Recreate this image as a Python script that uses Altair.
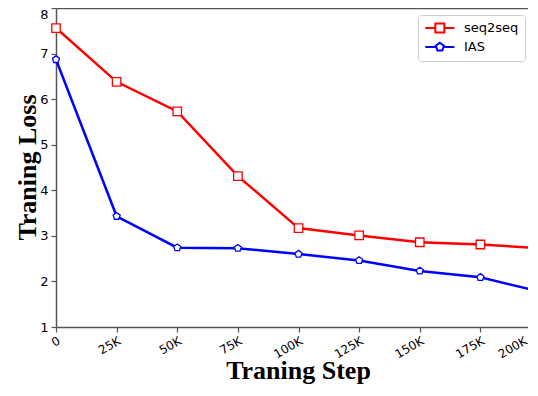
import altair as alt
import pandas as pd

steps = [0, 25000, 50000, 75000, 100000, 125000, 150000, 175000, 200000]
seq2seq = [7.56, 6.38, 5.73, 4.31, 3.17, 3.01, 2.86, 2.81, 2.73]
ias = [6.87, 3.43, 2.74, 2.73, 2.60, 2.46, 2.23, 2.09, 1.77]
series_names = ["seq2seq", "IAS"]
series_colors = ["#ff0000", "#0000ff"]

rows = []
for s, v in zip(steps, seq2seq):
    rows.append({"step": s, "loss": v, "series": "seq2seq"})
for s, v in zip(steps, ias):
    rows.append({"step": s, "loss": v, "series": "IAS"})
df = pd.DataFrame(rows)

PENTAGON = "M0,-1L0.951,-0.309L0.588,0.809L-0.588,0.809L-0.951,-0.309Z"
# legend glyphs: line with marker in the middle (unit = 6px for symbolSize 144)
LEG_SQ = "M-0.95,0H0.725M2.225,0H3.9M0.725,-0.75H2.225V0.75H0.725Z"
LEG_PENT = ("M-0.95,0H0.809M2.141,0H3.9M1.475,-0.7L2.141,-0.216L1.886,0.566"
            "L1.064,0.566L0.809,-0.216Z")

xscale = alt.Scale(domain=[0, 200000], range=[0, 485], nice=False)
yscale = alt.Scale(domain=[1, 8], nice=False)

x_main = alt.X("step:Q", scale=xscale,
               axis=alt.Axis(values=steps, title="Traning Step",
                             labelExpr="datum.value == 0 ? '0' : (datum.value/1000) + 'K'",
                             labelAngle=-30, labelAlign="right", labelBaseline="top",
                             labelFontSize=12, labelPadding=3,
                             labelOffset={"condition": {"test": "datum.value == 200000", "value": -18},
                                          "value": 0},
                             titleX=242, titleY=51, titleBaseline="alphabetic", grid=False))
x_plain = alt.X("step:Q", scale=xscale, axis=None)
y_main = alt.Y("loss:Q", scale=yscale,
               axis=alt.Axis(values=[1, 2, 3, 4, 5, 6, 7, 8], title="Traning Loss",
                             labelFontSize=13, labelPadding=3,
                             labelBaseline={"condition": {"test": "datum.value == 8", "value": "top"},
                                            "value": "middle"},
                             titleX=-29, titleY=159, titleBaseline="middle", grid=False))
y_plain = alt.Y("loss:Q", scale=yscale, axis=None)

base = alt.Chart(df)

def series_layers(name, color, shape, size, first):
    d = base.transform_filter(alt.datum.series == name)
    ln = d.mark_line(strokeWidth=2.5, color=color).encode(
        x=x_main if first else x_plain, y=y_main if first else y_plain)
    pt = d.mark_point(shape=shape, size=size, filled=True, fill="white", stroke=color,
                      strokeWidth=1.3, opacity=1).encode(x=x_plain, y=y_plain)
    return ln, pt

l1, p1 = series_layers("seq2seq", series_colors[0], "square", 72, True)
l2, p2 = series_layers("IAS", series_colors[1], PENTAGON, 55, False)

# top frame line
top_frame = base.mark_point(opacity=0).encode(
    x=alt.X("step:Q", scale=xscale,
            axis=alt.Axis(orient="top", labels=False, ticks=False, title=None, grid=False)),
    y=y_plain,
)

leg_props = dict(title=None, orient="none", legendX=362, legendY=7,
                 symbolSize=144, symbolStrokeWidth=2, symbolOpacity=1,
                 labelFontSize=13, labelFont="DejaVu Sans", labelColor="black", labelOffset=26,
                 padding=6, rowPadding=1,
                 strokeColor="#cccccc", cornerRadius=3, fillColor="white")

legend_layer = base.transform_filter("false").mark_point(filled=False, strokeWidth=2).encode(
    x=x_plain, y=y_plain,
    color=alt.Color("series:N", scale=alt.Scale(domain=series_names, range=series_colors),
                    legend=alt.Legend(**leg_props)),
    shape=alt.Shape("series:N", scale=alt.Scale(domain=series_names, range=[LEG_SQ, LEG_PENT]),
                    legend=alt.Legend(**leg_props)),
)

chart = alt.layer(l1, l2, p1, p2, top_frame, legend_layer).resolve_axis(
    x="independent", y="independent"
).properties(
    width=472, height=319,
    autosize=alt.AutoSizeParams(type="none"),
    padding={"left": 48, "top": 0, "right": 0, "bottom": 57},
).configure_view(
    strokeWidth=0
).configure_axis(
    domainColor="#555555", domainWidth=1.5, tickColor="#555555", tickWidth=1.2, tickSize=5,
    labelFont="DejaVu Sans", labelColor="black",
    titleFont="Liberation Serif", titleFontWeight="bold", titleFontSize=26, titleColor="black",
)

chart.save("out.html", embed_options={"renderer": "svg", "actions": False})
